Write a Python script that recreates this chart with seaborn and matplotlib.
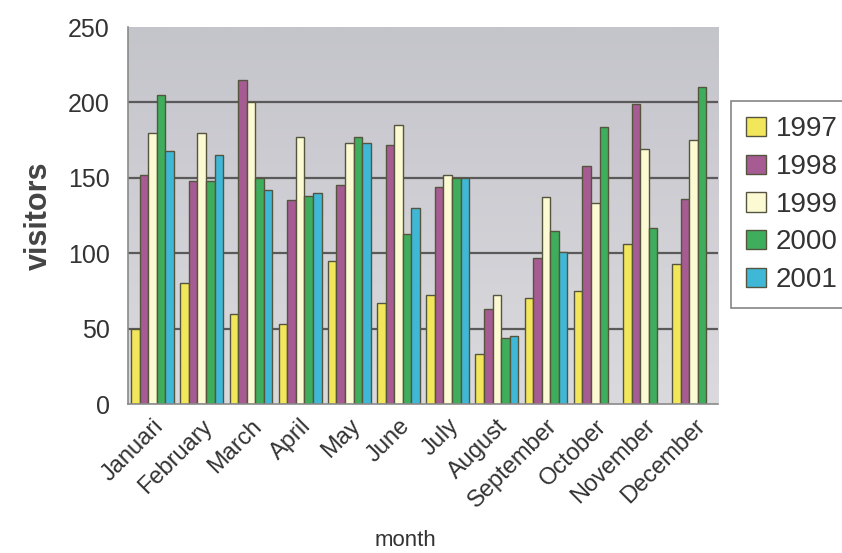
import numpy as np
import pandas as pd
import matplotlib
matplotlib.use("Agg")
import matplotlib.pyplot as plt
import seaborn as sns
from matplotlib.patches import Patch

months = ["Januari", "February", "March", "April", "May", "June",
          "July", "August", "September", "October", "November", "December"]
years = ["1997", "1998", "1999", "2000", "2001"]

v1997 = [50, 80, 60, 53, 95, 67, 72, 33, 70, 75, 106, 93]
v1998 = [152, 148, 215, 135, 145, 172, 144, 63, 97, 158, 199, 136]
v1999 = [180, 180, 200, 177, 173, 185, 152, 72, 137, 133, 169, 175]
v2000 = [205, 148, 150, 138, 177, 113, 150, 44, 115, 184, 117, 210]
v2001 = [168, 165, 142, 140, 173, 130, 150, 45, 101, np.nan, np.nan, np.nan]

colors = ["#f2e65a", "#a65c93", "#fcfad2", "#3fae5c", "#3fb8d8"]

rows = []
for yr, vals in zip(years, [v1997, v1998, v1999, v2000, v2001]):
    for m, v in zip(months, vals):
        rows.append({"month": m, "year": yr, "visitors": v})
df = pd.DataFrame(rows)

sns.set_style("white")
plt.rcParams["font.family"] = ["Liberation Sans", "DejaVu Sans"]

fig = plt.figure(figsize=(8.42, 5.53), dpi=100)
ax = fig.add_axes([0.152, 0.2694, 0.701, 0.6817])

# gray gradient plot area
grad = np.linspace(0, 1, 256).reshape(-1, 1)
cmap = matplotlib.colors.LinearSegmentedColormap.from_list(
    "bg", ["#dadade", "#c4c4cb"])
ax.imshow(grad, extent=[0, 1, 0, 1], transform=ax.transAxes, cmap=cmap,
          aspect="auto", origin="lower", zorder=-2)

sns.barplot(data=df, x="month", y="visitors", hue="year", order=months,
            hue_order=years, palette=colors, width=0.87, edgecolor="#55553f",
            linewidth=1.0, saturation=1, ax=ax, legend=False, zorder=2)

ax.set_ylim(0, 250)
ax.set_xlim(-0.5, 11.5)
ax.set_yticks([0, 50, 100, 150, 200, 250])
for y in [50, 100, 150, 200]:
    ax.axhline(y, color="#5a5a5a", lw=1.6, zorder=1)

ax.set_xticks(range(len(months)))
ax.set_xticklabels(months, rotation=45, ha="right", rotation_mode="anchor",
                   fontsize=17, color="#333333")
ax.set_xticks(np.arange(-0.5, 12, 1), minor=True)
ax.tick_params(axis="x", which="major", length=0, pad=8)
ax.tick_params(axis="x", which="minor", length=5, width=1, color="#777777",
               direction="out")
ax.tick_params(axis="y", length=6, width=1, color="#777777", direction="out",
               labelsize=18, labelcolor="#333333", pad=7)

for s in ["top", "right"]:
    ax.spines[s].set_visible(False)
ax.spines["left"].set_color("#8a8a8a")
ax.spines["left"].set_linewidth(1.2)
ax.spines["bottom"].set_color("#8a8a8a")
ax.spines["bottom"].set_linewidth(1.2)

ax.set_ylabel("visitors", fontsize=22, fontweight="bold", color="#444444",
              labelpad=10)
ax.set_xlabel("month", fontsize=16, color="#333333")
ax.xaxis.set_label_coords(0.47, -0.335)

handles = [Patch(facecolor=c, edgecolor="#55553f", linewidth=1.0) for c in colors]
leg = fig.legend(handles, years, loc="upper left",
                 bbox_to_anchor=(731 / 842, 1 - 101 / 553), frameon=True,
                 fontsize=20, handlelength=0.7, handleheight=0.7,
                 handletextpad=0.35, labelspacing=0.42, borderpad=0.55,
                 fancybox=False, borderaxespad=0)
leg.get_frame().set_edgecolor("#666666")
leg.get_frame().set_linewidth(1.2)
for t in leg.get_texts():
    t.set_color("#333333")

fig.savefig("out.png", dpi=100)
